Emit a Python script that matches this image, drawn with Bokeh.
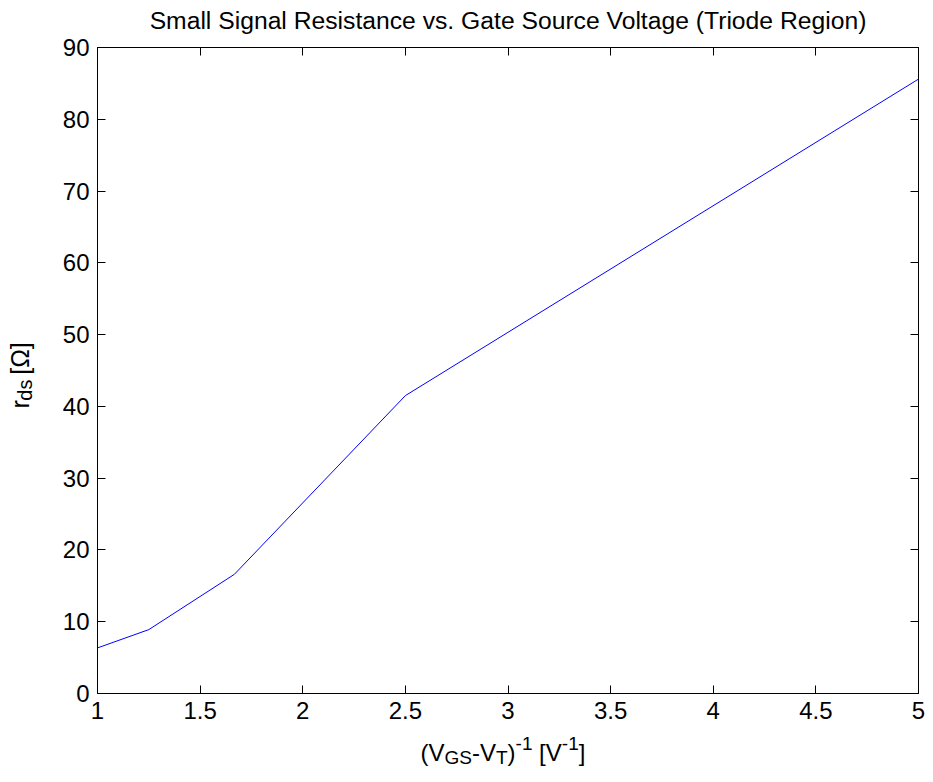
from math import pi
from bokeh.plotting import figure
from bokeh.layouts import column, row
from bokeh.models import Range1d, LinearAxis, FixedTicker, ColumnDataSource
from bokeh.core.properties import value
from bokeh.embed import file_html
from bokeh.resources import INLINE

# ---- data ----
x_vals = [1.0, 1.25, 1.6667, 2.5, 5.0]
r_ds = [6.35, 8.9, 16.6, 41.5, 85.6]
x_ticks = [1, 1.5, 2, 2.5, 3, 3.5, 4, 4.5, 5]
x_tick_labels = ["1", "1.5", "2", "2.5", "3", "3.5", "4", "4.5", "5"]
y_ticks = [0, 10, 20, 30, 40, 50, 60, 70, 80, 90]
y_tick_labels = ["0", "10", "20", "30", "40", "50", "60", "70", "80", "90"]
title_text = "Small Signal Resistance vs. Gate Source Voltage (Triode Region)"

FONT = "Liberation Sans"
TOTAL_W = 925
TITLE_H = 35
YLAB_W = 48
FRAME_L, FRAME_W = 97, 821
P_TOP, FRAME_H, P_BOTTOM = 12, 646, 40
P_H = P_TOP + FRAME_H + P_BOTTOM
P_W = TOTAL_W - YLAB_W
XLAB_H = 45
BASE_FIX = 8  # baseline correction of the text glyph

p = figure(width=P_W, height=P_H, output_backend="svg", toolbar_location=None,
           title=None,
           x_range=Range1d(1, 5), y_range=Range1d(0, 90),
           min_border_left=FRAME_L - YLAB_W,
           min_border_right=P_W - (FRAME_L - YLAB_W) - FRAME_W,
           min_border_top=P_TOP, min_border_bottom=P_BOTTOM,
           x_axis_type=None, y_axis_type=None)
p.grid.visible = False
p.outline_line_color = "black"

p.line(x_vals, r_ds, line_color="#0000ff", line_width=1)


def make_axis(ticks, labels, show):
    shown = labels if show else ["" for _ in labels]
    ax = LinearAxis(ticker=FixedTicker(ticks=ticks),
                    major_label_overrides={t: l for t, l in zip(ticks, shown)})
    ax.major_tick_in = 8
    ax.major_tick_out = 0
    ax.minor_tick_in = 0
    ax.minor_tick_out = 0
    ax.axis_line_color = "black"
    ax.major_tick_line_color = "black"
    ax.major_label_text_font = FONT
    ax.major_label_text_font_size = "24px"
    ax.major_label_text_color = "black"
    ax.major_label_standoff = 8 if show else 0
    return ax


p.add_layout(make_axis(x_ticks, x_tick_labels, True), "below")
p.add_layout(make_axis(y_ticks, y_tick_labels, True), "left")
p.add_layout(make_axis(x_ticks, x_tick_labels, False), "above")
p.add_layout(make_axis(y_ticks, y_tick_labels, False), "right")


def blank(w, h):
    f = figure(width=w, height=h, output_backend="svg", toolbar_location=None,
               title=None,
               x_range=Range1d(0, w), y_range=Range1d(0, h),
               x_axis_type=None, y_axis_type=None, min_border=0)
    f.grid.visible = False
    f.outline_line_color = None
    return f


WID = {'(': 333, ')': 333, 'V': 667, 'G': 778, 'S': 667, '-': 333, 'T': 611,
       '1': 556, ' ': 278, '[': 278, ']': 278, 'r': 333, 'd': 556, 's': 500,
       'Ω': 768}


def tw(s, size):
    return sum(WID.get(c, 556) for c in s) * size / 1000.0


def compose(fig, segments, x0, y0, rotated=False):
    xs, ys, texts, sizes = [], [], [], []
    pos = 0.0
    for text, size, shift in segments:
        lead = len(text) - len(text.lstrip(" "))
        pos += tw(text[:lead], size)
        body = text[lead:]
        if rotated:
            xs.append(x0 - shift)
            ys.append(y0 + pos)
        else:
            xs.append(x0 + pos)
            ys.append(y0 + shift)
        texts.append(body)
        sizes.append(f"{size}px")
        pos += tw(body, size)
    src = ColumnDataSource(dict(x=xs, y=ys, text=texts, size=sizes))
    fig.text(x="x", y="y", text="text", source=src, text_font=value(FONT),
             text_font_size="size", angle=pi / 2 if rotated else 0,
             text_align="left", text_baseline="alphabetic", text_color="black")


# title: baseline at y=28 of the page
title_fig = blank(TOTAL_W, TITLE_H)
title_fig.text(x=[FRAME_L + FRAME_W / 2], y=[TITLE_H - 28 + BASE_FIX],
               text=[title_text], text_font=value(FONT),
               text_font_size="24.7px", text_align="center",
               text_baseline="alphabetic", text_color="black")

M, S = 24, 19
# x label: starts at x=420, baseline at y=760 of the page
xlab_top = TITLE_H + P_H
xlab_fig = blank(TOTAL_W, XLAB_H)
xlabel = [("(V", M, 0), ("GS", S, -5), ("-V", M, 0), ("T", S, -5), (")", M, 0),
          ("-1", S, 9), (" [V", M, 0), ("-1", S, 9), ("]", M, 0)]
compose(xlab_fig, xlabel, 420, XLAB_H - (760 - xlab_top) + BASE_FIX)

# y label: baseline near x=27, starts near y=410 of the page
MY, SY = 25, 20
ylab_fig = blank(YLAB_W, P_H)
ylabel = [("r", MY, 0), ("ds", SY, -5), (" [Ω]", MY, 0)]
compose(ylab_fig, ylabel, 27 - BASE_FIX, P_H - (425 - TITLE_H), rotated=True)

layout = column(title_fig, row(ylab_fig, p), xlab_fig)

open("out.html", "w").write(file_html(layout, INLINE))
